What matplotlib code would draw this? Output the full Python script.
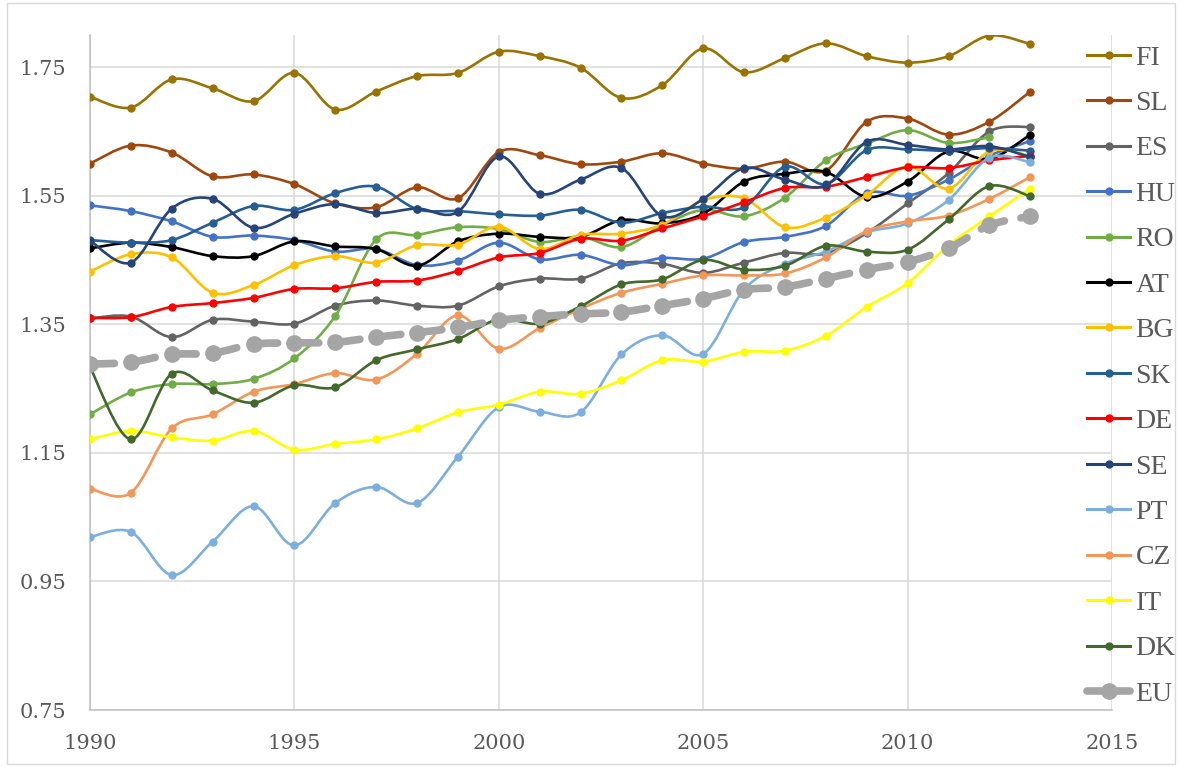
import numpy as np
import matplotlib.pyplot as plt
from matplotlib.path import Path
from matplotlib.patches import PathPatch, Rectangle
from matplotlib.lines import Line2D

years = np.arange(1990, 2014)

FI = [1.704, 1.687, 1.731, 1.717, 1.697, 1.741, 1.684, 1.712, 1.736, 1.741, 1.774, 1.767,
      1.749, 1.702, 1.722, 1.779, 1.742, 1.764, 1.787, 1.767, 1.757, 1.767, 1.799, 1.786]
SL = [1.600, 1.628, 1.617, 1.580, 1.583, 1.568, 1.538, 1.532, 1.563, 1.546, 1.618, 1.613,
      1.599, 1.603, 1.616, 1.600, 1.592, 1.603, 1.589, 1.665, 1.670, 1.645, 1.665, 1.712]
ES = [1.359, 1.362, 1.330, 1.357, 1.354, 1.351, 1.379, 1.387, 1.379, 1.379, 1.409, 1.421,
      1.421, 1.445, 1.444, 1.430, 1.446, 1.461, 1.460, 1.492, 1.538, 1.585, 1.650, 1.657]
HU = [1.535, 1.526, 1.510, 1.486, 1.488, 1.481, 1.463, 1.467, 1.442, 1.449, 1.477, 1.451,
      1.458, 1.442, 1.453, 1.452, 1.478, 1.486, 1.503, 1.554, 1.550, 1.575, 1.612, 1.635]
RO = [1.210, 1.244, 1.257, 1.257, 1.265, 1.297, 1.363, 1.482, 1.489, 1.501, 1.498, 1.478,
      1.486, 1.470, 1.504, 1.528, 1.518, 1.547, 1.605, 1.631, 1.652, 1.632, 1.641, np.nan]
AT = [1.468, 1.477, 1.470, 1.456, 1.456, 1.479, 1.471, 1.467, 1.441, 1.479, 1.491, 1.486,
      1.486, 1.512, 1.507, 1.522, 1.572, 1.584, 1.587, 1.548, 1.572, 1.619, 1.607, 1.645]
BG = [1.432, 1.459, 1.454, 1.399, 1.411, 1.442, 1.456, 1.446, 1.473, 1.474, 1.502, 1.467,
      1.489, 1.491, 1.505, 1.543, 1.546, 1.501, 1.516, 1.551, 1.596, 1.561, 1.619, 1.612]
SK = [1.481, 1.477, 1.481, 1.508, 1.534, 1.528, 1.554, 1.564, 1.529, 1.526, 1.521, 1.519,
      1.528, 1.508, 1.523, 1.533, 1.532, 1.595, 1.568, 1.621, 1.622, 1.620, 1.624, 1.620]
DE = [1.360, 1.361, 1.377, 1.383, 1.391, 1.405, 1.406, 1.416, 1.418, 1.433, 1.454, 1.461,
      1.483, 1.480, 1.499, 1.518, 1.540, 1.562, 1.564, 1.579, 1.594, 1.593, 1.605, 1.612]
SE = [1.480, 1.446, 1.530, 1.545, 1.500, 1.522, 1.537, 1.523, 1.530, 1.525, 1.611, 1.553,
      1.575, 1.593, 1.518, 1.545, 1.593, 1.575, 1.566, 1.634, 1.629, 1.622, 1.627, 1.610]
PT = [1.019, 1.027, 0.960, 1.012, 1.067, 1.006, 1.072, 1.097, 1.072, 1.144, 1.221, 1.214,
      1.213, 1.303, 1.333, 1.304, 1.404, 1.444, 1.463, 1.493, 1.507, 1.543, 1.609, 1.602]
CZ = [1.094, 1.088, 1.188, 1.210, 1.245, 1.257, 1.274, 1.264, 1.304, 1.364, 1.312, 1.344,
      1.374, 1.399, 1.413, 1.426, 1.426, 1.429, 1.454, 1.495, 1.510, 1.519, 1.545, 1.579]
IT = [1.171, 1.184, 1.174, 1.169, 1.184, 1.155, 1.164, 1.171, 1.188, 1.213, 1.225, 1.245,
      1.242, 1.263, 1.294, 1.292, 1.307, 1.309, 1.332, 1.377, 1.414, 1.473, 1.518, 1.561]
DK = [1.283, 1.171, 1.273, 1.247, 1.228, 1.255, 1.252, 1.294, 1.311, 1.327, 1.358, 1.351,
      1.378, 1.412, 1.420, 1.450, 1.435, 1.441, 1.472, 1.463, 1.466, 1.513, 1.565, 1.549]
EU = [1.288, 1.291, 1.303, 1.305, 1.319, 1.321, 1.322, 1.330, 1.337, 1.345, 1.356, 1.362,
      1.366, 1.369, 1.379, 1.390, 1.404, 1.408, 1.421, 1.435, 1.447, 1.468, 1.504, 1.518]

series = [
    ("FI", FI, "#997300"),
    ("SL", SL, "#9E480E"),
    ("ES", ES, "#636363"),
    ("HU", HU, "#4472C4"),
    ("RO", RO, "#70AD47"),
    ("AT", AT, "#000000"),
    ("BG", BG, "#FFC000"),
    ("SK", SK, "#255E91"),
    ("DE", DE, "#FF0000"),
    ("SE", SE, "#264478"),
    ("PT", PT, "#7CAFDD"),
    ("CZ", CZ, "#F1975A"),
    ("IT", IT, "#FFFF00"),
    ("DK", DK, "#43682B"),
    ("EU", EU, "#A5A5A5"),
]


def smooth_path(x, y):
    # Excel-like smoothed line: Catmull-Rom turned into cubic Bezier pieces
    pts = np.column_stack([x, y])
    n = len(pts)
    verts = [pts[0]]
    codes = [Path.MOVETO]
    for i in range(n - 1):
        p0 = pts[i - 1] if i > 0 else pts[i]
        p1 = pts[i]
        p2 = pts[i + 1]
        p3 = pts[i + 2] if i + 2 < n else pts[i + 1]
        verts += [p1 + (p2 - p0) / 6, p2 - (p3 - p1) / 6, p2]
        codes += [Path.CURVE4] * 3
    return Path(verts, codes)


fig = plt.figure(figsize=(11.8, 7.67), dpi=100)
ax = fig.add_axes([0.0763, 0.0743, 0.8661, 0.8801])

handles = []
for i, (name, vals, col) in enumerate(series):
    v = np.array(vals, dtype=float)
    ok = ~np.isnan(v)
    x, y = years[ok], v[ok]
    z = 3 + i
    if name == "EU":
        patch = PathPatch(smooth_path(x, y), fill=False, edgecolor=col, lw=5.5,
                          linestyle=(0, (3.2, 2.2)), capstyle="round", zorder=z)
        ax.add_patch(patch)
        ax.plot(x, y, "o", color=col, ms=11, zorder=z)
        handles.append(Line2D([], [], color=col, lw=5.5, marker="o", ms=11,
                              solid_capstyle="round"))
    else:
        patch = PathPatch(smooth_path(x, y), fill=False, edgecolor=col, lw=1.9,
                          capstyle="round", zorder=z)
        ax.add_patch(patch)
        ax.plot(x, y, "o", color=col, ms=5, zorder=z)
        handles.append(Line2D([], [], color=col, lw=2.2, marker="o", ms=5))

ax.set_xlim(1990, 2015)
ax.set_ylim(0.75, 1.80)
ax.set_xticks(np.arange(1990, 2016, 5))
ax.set_yticks([0.75, 0.95, 1.15, 1.35, 1.55, 1.75])
ax.set_yticklabels(["0.75", "0.95", "1.15", "1.35", "1.55", "1.75"])
ax.grid(True, color="#D9D9D9", lw=1.1, zorder=0)
ax.set_axisbelow(True)
for s in ["top", "right"]:
    ax.spines[s].set_visible(False)
for s in ["left", "bottom"]:
    ax.spines[s].set_color("#BFBFBF")
    ax.spines[s].set_linewidth(1.1)
ax.tick_params(length=0, pad=17, labelsize=15, labelcolor="#595959")
for lab in ax.get_xticklabels() + ax.get_yticklabels():
    lab.set_family("DejaVu Serif")

leg = ax.legend(handles, [s[0] for s in series], loc="upper left",
                bbox_to_anchor=(0.9755, 0.985), frameon=False, handlelength=1.55,
                handletextpad=0.2, labelspacing=0.72, borderpad=0, borderaxespad=0,
                prop={"family": "Liberation Serif", "size": 20})
for t in leg.get_texts():
    t.set_color("#595959")

fig.patches.append(Rectangle((0.006, 0.004), 0.99, 0.992, transform=fig.transFigure,
                             fill=False, edgecolor="#D9D9D9", lw=1))

fig.savefig("out.png", dpi=100)
